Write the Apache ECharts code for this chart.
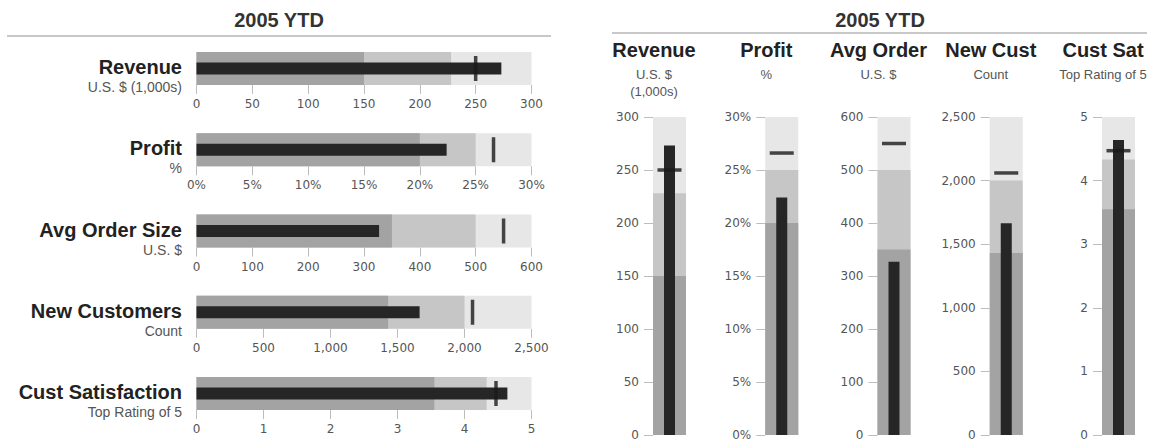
<!DOCTYPE html>
<html>
<head>
<meta charset="utf-8">
<script src="https://cdn.jsdelivr.net/npm/echarts@6/dist/echarts.min.js"></script>
<style>
html,body{margin:0;padding:0;background:#fff;}
#chart{width:1151px;height:441px;}
</style>
</head>
<body>
<div id="chart"></div>
<script>
const metrics = ['Revenue', 'Profit', 'Avg Order Size', 'New Customers', 'Cust Satisfaction'];
const shortNames = ['Revenue', 'Profit', 'Avg Order', 'New Cust', 'Cust Sat'];
const units = ['U.S. $ (1,000s)', '%', 'U.S. $', 'Count', 'Top Rating of 5'];
const unitsStacked = ['U.S. $\n(1,000s)', '%', 'U.S. $', 'Count', 'Top Rating of 5'];
const rangePoor = [150, 20, 350, 1430, 3.55];
const rangeSatisfactory = [228, 25, 500, 2000, 4.33];
const rangeMax = [300, 30, 600, 2500, 5];
const actual = [273, 22.4, 327, 1665, 4.64];
const target = [250, 26.6, 550, 2060, 4.47];
const tickStep = [50, 5, 100, 500, 1];
const panelTitle = '2005 YTD';

const FONT = "'Liberation Sans', Arial, Helvetica, sans-serif";
const TICKFONT = "'DejaVu Sans', Verdana, sans-serif";
const C_POOR = '#a3a3a3', C_SAT = '#c6c6c6', C_GOOD = '#e7e7e7', C_BAR = '#262626', C_TGT = '#1a1a1a';

function fmt(i) {
  return function (v) {
    if (i === 1) return v + '%';
    return Number(v).toLocaleString('en-US');
  };
}

const grids = [], xAxes = [], yAxes = [], series = [], graphics = [];

function rangeSeries(xi, yi, val, color, w) {
  return {
    type: 'bar', xAxisIndex: xi, yAxisIndex: yi, data: [val], barWidth: w, barGap: '-100%',
    itemStyle: { color: color }, silent: true, animation: false
  };
}

metrics.forEach((m, i) => {
  // ---------- left: horizontal bullet ----------
  const rowTop = 52 + i * 81.25;
  let g = grids.length;
  grids.push({ left: 196.5, width: 335, top: rowTop, height: 33 });
  let xi = xAxes.length;
  xAxes.push({
    type: 'value', gridIndex: g, min: 0, max: rangeMax[i], interval: tickStep[i],
    splitLine: { show: false }, axisLine: { show: false },
    axisTick: { show: true, length: 9, lineStyle: { color: '#bdbdbd', width: 1 } },
    axisLabel: { formatter: fmt(i), margin: 13, color: '#555', fontFamily: TICKFONT, fontSize: 12 }
  });
  let yb = yAxes.length;
  yAxes.push({ type: 'category', gridIndex: g, data: [m], show: false });
  let ya = yAxes.length;
  yAxes.push({ type: 'category', gridIndex: g, data: [m], show: false });
  series.push(rangeSeries(xi, yb, rangeMax[i], C_GOOD, 33));
  series.push(rangeSeries(xi, yb, rangeSatisfactory[i], C_SAT, 33));
  series.push(rangeSeries(xi, yb, rangePoor[i], C_POOR, 33));
  series.push({ type: 'bar', xAxisIndex: xi, yAxisIndex: ya, data: [actual[i]], barWidth: 12,
    itemStyle: { color: C_BAR }, animation: false });
  series.push({ type: 'scatter', xAxisIndex: xi, yAxisIndex: ya, data: [[target[i], m]],
    symbol: 'rect', symbolSize: [3.5, 25], itemStyle: { color: C_TGT }, z: 5, animation: false });

  graphics.push({ type: 'text', x: 182, y: rowTop + 15, style: { text: m, textAlign: 'right', textVerticalAlign: 'middle',
    font: 'bold 20px ' + FONT, fill: '#222' } });
  graphics.push({ type: 'text', x: 182, y: rowTop + 35, style: { text: units[i], textAlign: 'right', textVerticalAlign: 'middle',
    font: '14px ' + FONT, fill: '#555' } });

  // ---------- right: vertical bullet ----------
  const colLeft = 653 + i * 112.25;
  g = grids.length;
  grids.push({ left: colLeft, width: 33, top: 117, height: 320 });
  let xb = xAxes.length;
  xAxes.push({ type: 'category', gridIndex: g, data: [m], show: false });
  let xa = xAxes.length;
  xAxes.push({ type: 'category', gridIndex: g, data: [m], show: false });
  let yi = yAxes.length;
  yAxes.push({
    type: 'value', gridIndex: g, min: 0, max: rangeMax[i], interval: tickStep[i],
    splitLine: { show: false }, axisLine: { show: false },
    axisTick: { show: true, length: 9, lineStyle: { color: '#bdbdbd', width: 1 } },
    axisLabel: { formatter: fmt(i), margin: 14, color: '#555', fontFamily: TICKFONT, fontSize: 12 }
  });
  series.push(rangeSeries(xb, yi, rangeMax[i], C_GOOD, 33));
  series.push(rangeSeries(xb, yi, rangeSatisfactory[i], C_SAT, 33));
  series.push(rangeSeries(xb, yi, rangePoor[i], C_POOR, 33));
  series.push({ type: 'bar', xAxisIndex: xa, yAxisIndex: yi, data: [actual[i]], barWidth: 11,
    itemStyle: { color: C_BAR }, animation: false });
  series.push({ type: 'scatter', xAxisIndex: xa, yAxisIndex: yi, data: [[m, target[i]]],
    symbol: 'rect', symbolSize: [24, 3.5], itemStyle: { color: C_TGT }, z: 5, animation: false });

  graphics.push({ type: 'text', x: colLeft + 1, y: 50, style: { text: shortNames[i], textAlign: 'center', textVerticalAlign: 'middle',
    font: 'bold 20px ' + FONT, fill: '#222' } });
  graphics.push({ type: 'text', x: colLeft + 1, y: 66, style: { text: unitsStacked[i], textAlign: 'center', textVerticalAlign: 'top',
    font: '13px ' + FONT, fill: '#555', lineHeight: 17 } });
});

// panel titles and rules
graphics.push({ type: 'text', x: 279, y: 20, style: { text: panelTitle, textAlign: 'center', textVerticalAlign: 'middle',
  font: 'bold 20px ' + FONT, fill: '#333' } });
graphics.push({ type: 'line', shape: { x1: 7, y1: 36, x2: 551, y2: 36 }, style: { stroke: '#c8c8c8', lineWidth: 2 } });
graphics.push({ type: 'text', x: 880, y: 20, style: { text: panelTitle, textAlign: 'center', textVerticalAlign: 'middle',
  font: 'bold 20px ' + FONT, fill: '#333' } });
graphics.push({ type: 'line', shape: { x1: 612, y1: 33, x2: 1147, y2: 33 }, style: { stroke: '#c8c8c8', lineWidth: 2 } });

const chart = echarts.init(document.getElementById('chart'), null, { renderer: 'svg' });
chart.setOption({
  backgroundColor: '#fff',
  animation: false,
  grid: grids,
  xAxis: xAxes,
  yAxis: yAxes,
  series: series,
  graphic: graphics
});
</script>
</body>
</html>
